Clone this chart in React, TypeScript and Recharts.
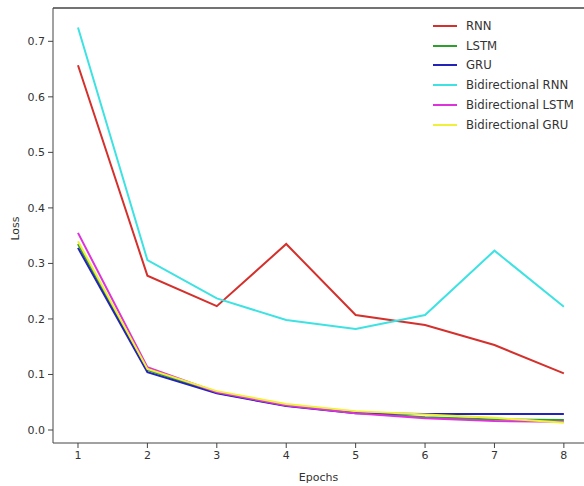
import { LineChart, Line, XAxis, YAxis, ReferenceLine } from 'recharts';

const epochs = [1, 2, 3, 4, 5, 6, 7, 8];
const rnn = [0.657, 0.278, 0.223, 0.335, 0.207, 0.189, 0.153, 0.102];
const lstm = [0.335, 0.108, 0.067, 0.044, 0.031, 0.023, 0.019, 0.018];
const gru = [0.328, 0.104, 0.066, 0.043, 0.030, 0.029, 0.029, 0.029];
const biRnn = [0.725, 0.306, 0.237, 0.198, 0.182, 0.207, 0.323, 0.222];
const biLstm = [0.355, 0.113, 0.068, 0.044, 0.030, 0.021, 0.016, 0.015];
const biGru = [0.340, 0.110, 0.070, 0.047, 0.034, 0.028, 0.022, 0.013];
const yTicks = [0, 0.1, 0.2, 0.3, 0.4, 0.5, 0.6, 0.7];

const series = [
  { key: 'rnn', name: 'RNN', color: '#d4302c' },
  { key: 'lstm', name: 'LSTM', color: '#2ca02c' },
  { key: 'gru', name: 'GRU', color: '#2323b8' },
  { key: 'biRnn', name: 'Bidirectional RNN', color: '#3ee2e2' },
  { key: 'biLstm', name: 'Bidirectional LSTM', color: '#dd33dd' },
  { key: 'biGru', name: 'Bidirectional GRU', color: '#f0f03a' },
];

const data = epochs.map((e, i) => ({
  epoch: e,
  rnn: rnn[i],
  lstm: lstm[i],
  gru: gru[i],
  biRnn: biRnn[i],
  biLstm: biLstm[i],
  biGru: biGru[i],
}));

const font = 'DejaVu Sans, sans-serif';
const tick = { fill: '#333', fontSize: 11, fontFamily: font };

// y axis title, centred on the plot height
const LossLabel = (props: any) => {
  const vb = props.viewBox || {};
  const cy = (vb.y ?? 8) + (vb.height ?? 435) / 2 + 3;
  return (
    <text x={15} y={cy} transform={`rotate(-90 15 ${cy})`} textAnchor="middle" dominantBaseline="central"
      fill="#333" fontSize={11} fontFamily={font}>
      Loss
    </text>
  );
};

export default function App() {
  return (
    <div style={{ position: 'absolute', left: 0, top: 0, width: 584, height: 486, background: '#fff' }}>
      <LineChart width={584} height={486} data={data} margin={{ top: 8, right: 0, bottom: 0, left: 0 }}>
        <XAxis
          dataKey="epoch"
          type="number"
          domain={[0.64, 8.29]}
          ticks={epochs}
          allowDataOverflow
          stroke="#444"
          tick={tick}
          tickSize={5}
          tickMargin={3}
          height={43}
          label={{ value: 'Epochs', position: 'insideBottom', offset: 5, fill: '#333', fontSize: 11, fontFamily: font }}
        />
        <YAxis
          type="number"
          domain={[-0.0234, 0.76]}
          ticks={yTicks}
          allowDataOverflow
          stroke="#444"
          tick={tick}
          tickSize={5}
          tickMargin={3}
          width={53}
          tickFormatter={(v: number) => v.toFixed(1)}
          label={<LossLabel />}
        />
        <ReferenceLine y={0.76} stroke="#444" strokeWidth={1.5} ifOverflow="extendDomain" />
        {series.map((s) => (
          <Line
            key={s.key}
            type="linear"
            dataKey={s.key}
            name={s.name}
            stroke={s.color}
            strokeWidth={2}
            dot={false}
            isAnimationActive={false}
          />
        ))}
      </LineChart>
      <div style={{ position: 'absolute', left: 433, top: 16, fontFamily: font, fontSize: 11.7, color: '#333' }}>
        {series.map((s) => (
          <div key={s.key} style={{ display: 'flex', alignItems: 'center', height: 19.8 }}>
            <span style={{ display: 'inline-block', width: 24, height: 2, background: s.color, marginRight: 9 }} />
            <span>{s.name}</span>
          </div>
        ))}
      </div>
    </div>
  );
}
